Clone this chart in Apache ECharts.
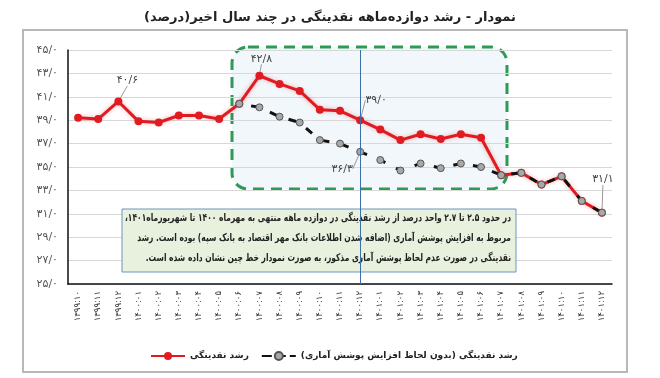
<!DOCTYPE html>
<html>
<head>
<meta charset="utf-8">
<script src="https://cdn.jsdelivr.net/npm/echarts@6/dist/echarts.min.js"></script>
<style>
html, body { margin: 0; padding: 0; background: #fff; }
#chart { width: 660px; height: 378px; }
</style>
</head>
<body>
<div id="chart"></div>
<script>
// دسته‌ها (ماه‌ها)
const months = [
  '۱۳۹۹:۱۰', '۱۳۹۹:۱۱', '۱۳۹۹:۱۲',
  '۱۴۰۰:۰۱', '۱۴۰۰:۰۲', '۱۴۰۰:۰۳', '۱۴۰۰:۰۴', '۱۴۰۰:۰۵', '۱۴۰۰:۰۶',
  '۱۴۰۰:۰۷', '۱۴۰۰:۰۸', '۱۴۰۰:۰۹', '۱۴۰۰:۱۰', '۱۴۰۰:۱۱', '۱۴۰۰:۱۲',
  '۱۴۰۱:۰۱', '۱۴۰۱:۰۲', '۱۴۰۱:۰۳', '۱۴۰۱:۰۴', '۱۴۰۱:۰۵', '۱۴۰۱:۰۶',
  '۱۴۰۱:۰۷', '۱۴۰۱:۰۸', '۱۴۰۱:۰۹', '۱۴۰۱:۱۰', '۱۴۰۱:۱۱', '۱۴۰۱:۱۲'
]
// رشد نقدینگی
const growth = [39.2, 39.1, 40.6, 38.9, 38.8, 39.4, 39.4, 39.1, 40.4, 42.8, 42.1, 41.5, 39.9, 39.8, 39.0,
  38.2, 37.3, 37.8, 37.4, 37.8, 37.5, 34.3, 34.5, 33.5, 34.2, 32.1, 31.1]
// رشد نقدینگی بدون لحاظ افزایش پوشش آماری
const growthAdj = [null, null, null, null, null, null, null, null, 40.4, 40.1, 39.3, 38.8, 37.3, 37.0, 36.3,
  35.6, 34.7, 35.3, 34.9, 35.3, 35.0, 34.3, 34.5, 33.5, 34.2, 32.1, 31.1]
const yMin = 25, yMax = 45, yStep = 2

const names = ['رشد نقدینگی', 'رشد نقدینگی (بدون لحاظ افزایش پوشش آماری)']
const title = 'نمودار - رشد دوازده‌ماهه نقدینگی در چند سال اخیر(درصد)'
const noteLines = [
  'در حدود ۲.۵ تا ۲.۷ واحد درصد از رشد نقدینگی در دوازده ماهه منتهی به مهرماه ۱۴۰۰ تا شهریورماه۱۴۰۱،',
  'مربوط به افزایش پوشش آماری (اضافه شدن اطلاعات بانک مهر اقتصاد به بانک سپه) بوده است. رشد',
  'نقدینگی در صورت عدم لحاظ پوشش آماری مذکور، به صورت نمودار خط چین نشان داده شده است.'
]

// نقاط برچسب‌دار و جابجایی برچسب‌ها
const redLabels = { 2: [9, -21], 9: [2, -17], 14: [16, -20], 26: [1, -33] }
const grayLabels = { 14: [-18, 17] }

const rlm = s => '\u200F' + s + '\u200F'
const fa = s => String(s).replace(/\d/g, d => '۰۱۲۳۴۵۶۷۸۹'[d])
const faNum = v => fa(Number(v).toFixed(1)).replace('.', '/')
const FONT = 'DejaVu Sans'

function withLabels(arr, offs) {
  return arr.map((v, i) => offs[i] ? { value: v, label: { show: true } } : v)
}

// متن توضیح: فشرده‌سازی افقی تا خط اول در عرض کادر جا شود
const noteFont = 'bold 10.5px ' + FONT
const mctx = document.createElement('canvas').getContext('2d')
mctx.font = noteFont
const noteScale = Math.min(1, 386 / mctx.measureText(rlm(noteLines[0])).width)

const chart = echarts.init(document.getElementById('chart'))
chart.setOption({
  animation: false,
  textStyle: { fontFamily: FONT },
  title: {
    text: rlm(title), left: 'center', top: 6,
    textStyle: { fontFamily: FONT, fontSize: 13, fontWeight: 'bold', color: '#222' }
  },
  legend: {
    data: [
      { name: names[0] },
      { name: names[1], lineStyle: { type: [10, 4], dashOffset: 0 } }
    ],
    left: 145, top: 346, itemWidth: 34, itemHeight: 10, itemGap: 12,
    formatter: n => rlm(n),
    textStyle: { fontFamily: FONT, fontSize: 9, fontWeight: 'bold', color: '#222' }
  },
  grid: { left: 68, right: 48, top: 50, bottom: 94 },
  xAxis: {
    type: 'category', data: months, boundaryGap: true,
    axisLine: { lineStyle: { color: '#111', width: 1.5 } },
    axisTick: { show: false },
    axisLabel: { rotate: 90, fontSize: 8.5, color: '#333', margin: 7, interval: 0 }
  },
  yAxis: {
    type: 'value', min: yMin, max: yMax, interval: yStep,
    axisLine: { show: true, lineStyle: { color: '#111', width: 1.5 } },
    axisTick: { show: false },
    splitLine: { lineStyle: { color: '#d8d8d8' } },
    axisLabel: { formatter: v => faNum(v), fontSize: 11, color: '#555', margin: 10 }
  },
  graphic: [
    { type: 'rect', x: 23, y: 30, z: -2, silent: true,
      shape: { width: 604, height: 342 },
      style: { fill: 'none', stroke: '#b8b8b8', lineWidth: 2 } },
    { type: 'rect', x: 232, y: 47, z: -1, silent: true,
      shape: { width: 275, height: 142, r: 16 },
      style: { fill: 'rgba(230,240,246,0.55)', stroke: '#2f9a55', lineWidth: 3, lineDash: [11, 7] } },
    { type: 'rect', x: 122, y: 209, z: 1, silent: true,
      shape: { width: 394, height: 63 },
      style: { fill: '#e8f1de', stroke: '#6c94bf', lineWidth: 1 } },
    ...noteLines.map((t, i) => ({
      type: 'text', x: 511, y: 213 + i * 20, z: 1, silent: true, scaleX: noteScale,
      style: { text: rlm(t), font: noteFont, fill: '#222', textAlign: 'right', textVerticalAlign: 'top' }
    }))
  ],
  series: [
    {
      name: names[0], type: 'line', data: withLabels(growth, redLabels), z: 2,
      symbol: 'circle', symbolSize: 8,
      itemStyle: { color: '#e11b22' },
      lineStyle: { color: '#e11b22', width: 3, shadowColor: 'rgba(225,27,34,0.35)', shadowBlur: 4 },
      label: { show: false, position: 'inside', formatter: p => faNum(p.value), fontSize: 11, color: '#444' },
      labelLine: { show: true, lineStyle: { color: '#999', width: 1 } },
      labelLayout: p => redLabels[p.dataIndex] ? { dx: redLabels[p.dataIndex][0], dy: redLabels[p.dataIndex][1] } : {},
      markLine: {
        silent: true, symbol: 'none', label: { show: false },
        lineStyle: { color: '#3c6ea8', width: 1, type: 'solid', shadowBlur: 0 },
        data: [{ xAxis: months[14] }]
      }
    },
    {
      name: names[1], type: 'line', data: withLabels(growthAdj, grayLabels), z: 3,
      symbol: 'circle', symbolSize: 7,
      itemStyle: { color: '#a8a8a8', borderColor: '#555', borderWidth: 1 },
      lineStyle: { color: '#111', width: 3, type: [8, 12], dashOffset: 8 },
      label: { show: false, position: 'inside', formatter: p => faNum(p.value), fontSize: 11, color: '#444' },
      labelLine: { show: true, lineStyle: { color: '#999', width: 1 } },
      labelLayout: p => grayLabels[p.dataIndex] ? { dx: grayLabels[p.dataIndex][0], dy: grayLabels[p.dataIndex][1] } : {}
    }
  ]
})
</script>
</body>
</html>
